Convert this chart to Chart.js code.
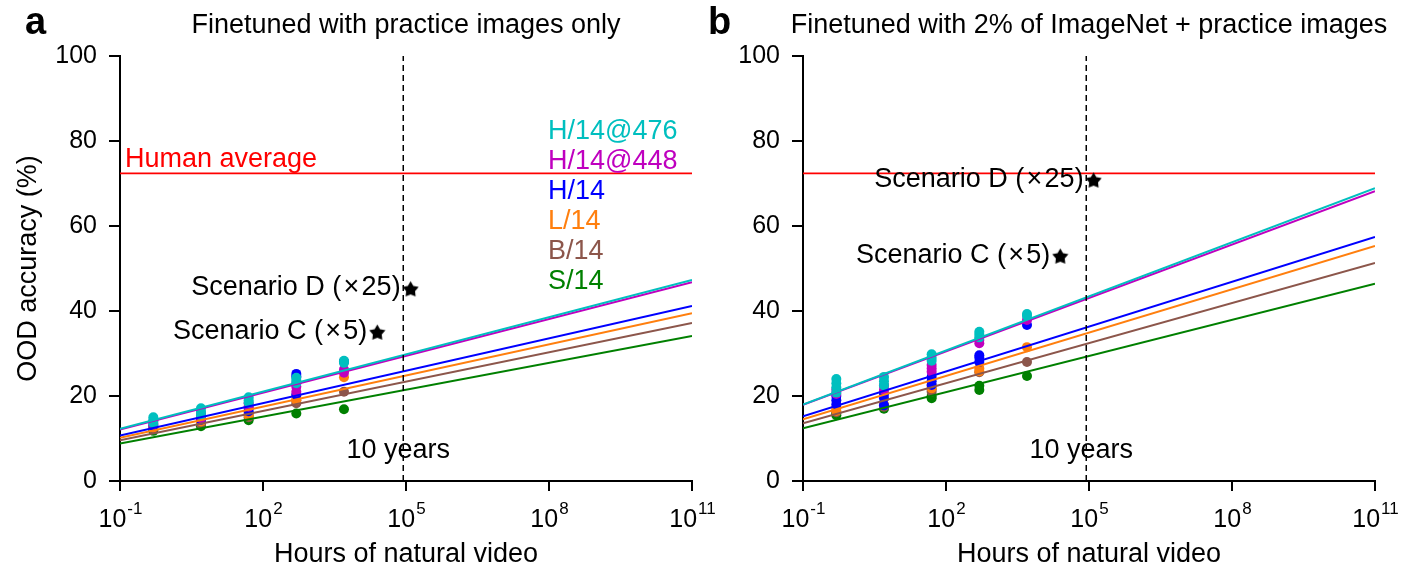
<!DOCTYPE html>
<html>
<head>
<meta charset="utf-8">
<script src="https://cdn.jsdelivr.net/npm/chart.js@4"></script>
<style>
  html, body { margin: 0; padding: 0; background: #fff; }
  #wrap { position: relative; width: 1419px; height: 573px; overflow: hidden; }
  canvas { position: absolute; top: 0; }
</style>
</head>
<body>
<div id="wrap">
  <canvas id="chartA" width="736" height="573" style="left:0px"></canvas>
  <canvas id="chartB" width="736" height="573" style="left:683px"></canvas>
</div>
<script>
// ---- data ----
const hours = [0.5, 5, 50, 500, 5000];
const models = ['H/14@476', 'H/14@448', 'H/14', 'L/14', 'B/14', 'S/14'];
const modelColors = ['#00bfbf', '#bf00bf', '#0000ff', '#ff7f0e', '#8c564b', '#008000'];

// panel a: OOD accuracy, several runs per amount of video
const accA_H476 = [[13.6, 14.3, 15.0], [15.4, 16.3, 17.1], [18.4, 19.0, 19.7], [23.0, 23.7, 24.3], [27.8, 28.3]];
const accA_H448 = [[13.3, 14.0], [14.8, 15.8], [17.5, 18.3], [21.0, 22.2, 23.0], [25.5, 26.2]];
const accA_H14  = [[13.0], [14.4, 15.0], [16.4, 17.2], [20.3, 24.6, 25.2], [28.1]];
const accA_L14  = [[12.6], [14.0], [15.4, 16.0], [19.0, 20.0], [24.4]];
const accA_B14  = [[12.3], [13.4, 13.9], [15.0, 15.6], [18.3, 19.0], [21.0]];
const accA_S14  = [[11.8], [12.9], [14.3], [15.9], [16.9]];

// panel b
const accB_H476 = [[20.8, 22.0, 23.0, 24.0], [22.5, 23.5, 24.5], [28.3, 29.0, 29.8], [33.8, 34.5, 35.1], [38.8, 39.3]];
const accB_H448 = [[20.5, 21.5], [21.5, 22.5], [25.7, 26.5, 27.3], [32.4, 33.2], [37.9]];
const accB_H14  = [[18.0, 19.0, 20.0], [17.8, 19.5, 20.5], [22.6, 23.5, 24.5], [28.0, 29.0, 29.6], [36.7]];
const accB_L14  = [[16.5, 17.2], [18.0], [21.8, 22.5], [25.8, 26.5], [31.5]];
const accB_B14  = [[16.2], [17.5], [21.0, 21.6], [25.6], [28.0]];
const accB_S14  = [[15.5, 16.0], [17.0], [19.5, 20.0], [21.4, 22.4], [24.7]];

// log-linear fits, values at both ends of the x range
const fitHours = [0.1, 1e11];
const fitA_H476 = [12.3, 47.3];
const fitA_H448 = [12.1, 46.8];
const fitA_H14  = [10.7, 41.2];
const fitA_L14  = [10.2, 39.5];
const fitA_B14  = [9.6, 37.2];
const fitA_S14  = [8.8, 34.1];
const fitB_H476 = [18.0, 68.9];
const fitB_H448 = [17.9, 68.2];
const fitB_H14  = [15.2, 57.4];
const fitB_L14  = [14.5, 55.3];
const fitB_B14  = [13.6, 51.3];
const fitB_S14  = [12.4, 46.4];

const humanAvg = 72.4;
const tenYears = 87600; // hours
const scenarioLabels = ['Scenario C (\u200a\u00d7\u200a5)', 'Scenario D (\u200a\u00d7\u200a25)'];
const scenarioHours = [2.5e4, 1.25e5];
const scenarioA = [35.0, 45.2];
const scenarioB = [52.9, 70.8];

const xTicks = [0.1, 1e2, 1e5, 1e8, 1e11];
const xTickExp = ['-1', '2', '5', '8', '11'];

const FONT = "'Liberation Sans', Arial, Helvetica, sans-serif";
Chart.defaults.font.family = FONT;
Chart.defaults.color = '#000';

// filled black star used for the scenario markers
function makeStar(size) {
  const c = document.createElement('canvas');
  c.width = size; c.height = size;
  const g = c.getContext('2d');
  const cx = size / 2, cy = size / 2 + 0.7, R = size / 2, r = R * 0.55;
  g.beginPath();
  for (let i = 0; i < 10; i++) {
    const rad = i % 2 === 0 ? R : r;
    const a = -Math.PI / 2 + i * Math.PI / 5;
    g.lineTo(cx + rad * Math.cos(a), cy + rad * Math.sin(a));
  }
  g.closePath();
  g.fillStyle = '#000';
  g.fill();
  return c;
}
const starImg = makeStar(17);

function toPoints(acc) {
  const pts = [];
  acc.forEach((vals, i) => vals.forEach(v => pts.push({ x: hours[i], y: v })));
  return pts;
}

// text drawn on top: panel letter, title, x tick labels, annotations
function textPlugin(panel) {
  return {
    id: 'panelText',
    afterDraw(chart) {
      const { ctx, chartArea: area, scales: { x, y } } = chart;
      ctx.save();
      ctx.fillStyle = '#000';

      // panel letter + title
      ctx.font = `bold 38px ${FONT}`;
      ctx.textAlign = 'left';
      ctx.textBaseline = 'middle';
      ctx.fillText(panel.letter, 25, 24);
      ctx.font = `27px ${FONT}`;
      ctx.textAlign = 'center';
      ctx.fillText(panel.title, (area.left + area.right) / 2, 26);

      // x tick labels 10^n
      ctx.textBaseline = 'alphabetic';
      xTicks.forEach((v, i) => {
        const px = x.getPixelForValue(v);
        ctx.font = `25px ${FONT}`;
        const w1 = ctx.measureText('10').width;
        ctx.font = `17px ${FONT}`;
        const w2 = ctx.measureText(xTickExp[i]).width;
        const left = px - (w1 + w2) / 2;
        ctx.textAlign = 'left';
        ctx.font = `25px ${FONT}`;
        ctx.fillText('10', left, 527);
        ctx.font = `17px ${FONT}`;
        ctx.fillText(xTickExp[i], left + w1 + 1, 514);
      });

      // "10 years"
      ctx.font = `27px ${FONT}`;
      ctx.textAlign = 'center';
      ctx.textBaseline = 'middle';
      ctx.fillText('10 years', x.getPixelForValue(tenYears) - 5, area.bottom - 30);

      // scenario labels, right-aligned next to the stars
      ctx.textAlign = 'right';
      scenarioLabels.forEach((lab, i) => {
        const px = x.getPixelForValue(scenarioHours[i]);
        const py = y.getPixelForValue(panel.scenario[i]);
        ctx.fillText(lab, px - 10, py - 1);
      });

      if (panel.legend) {
        ctx.textAlign = 'left';
        ctx.fillStyle = '#ff0000';
        ctx.textBaseline = 'alphabetic';
        ctx.fillText('Human average', area.left + 5, y.getPixelForValue(humanAvg) - 6);
        ctx.textBaseline = 'middle';
        models.forEach((m, i) => {
          ctx.fillStyle = modelColors[i];
          ctx.fillText(m, area.left + 428, 132 + i * 30);
        });
      }
      ctx.restore();
    }
  };
}

function makePanel(canvas, panel) {
  const datasets = [];

  // stars
  datasets.push({
    data: scenarioHours.map((h, i) => ({ x: h, y: panel.scenario[i] })),
    pointStyle: starImg,
    pointRadius: 8
  });
  // 10-year marker
  datasets.push({
    data: [{ x: tenYears, y: 0 }, { x: tenYears, y: 100 }],
    showLine: true, borderColor: '#000', borderWidth: 1.5, borderDash: [6, 4], pointRadius: 0
  });
  // human average
  datasets.push({
    data: [{ x: fitHours[0], y: humanAvg }, { x: fitHours[1], y: humanAvg }],
    showLine: true, borderColor: '#ff0000', borderWidth: 1.8, pointRadius: 0
  });
  // fit lines
  panel.fits.forEach((f, i) => {
    datasets.push({
      label: models[i] + ' fit',
      data: fitHours.map((h, j) => ({ x: h, y: f[j] })),
      showLine: true, borderColor: modelColors[i], borderWidth: 2, pointRadius: 0
    });
  });
  // measured points
  panel.acc.forEach((acc, i) => {
    datasets.push({
      label: models[i],
      data: toPoints(acc),
      pointRadius: 5,
      pointBackgroundColor: modelColors[i],
      pointBorderWidth: 0,
      borderColor: modelColors[i]
    });
  });

  return new Chart(canvas, {
    type: 'scatter',
    data: { datasets },
    plugins: [textPlugin(panel)],
    options: {
      responsive: false,
      animation: false,
      events: [],
      layout: { padding: { left: 0, top: 56, right: 44, bottom: 0 } },
      plugins: { legend: { display: false }, tooltip: { enabled: false } },
      scales: {
        x: {
          type: 'logarithmic',
          min: 0.1,
          max: 1e11,
          afterBuildTicks: (s) => { s.ticks = xTicks.map(v => ({ value: v })); },
          afterFit: (s) => { s.height = 92; },
          ticks: { display: false },
          grid: { drawOnChartArea: false, drawTicks: true, tickLength: 10, tickColor: '#000', lineWidth: 2 },
          border: { color: '#000', width: 2 },
          title: { display: true, text: 'Hours of natural video', font: { size: 27 }, padding: { top: 0, bottom: 2 } }
        },
        y: {
          min: 0,
          max: 100,
          afterFit: (s) => { s.width = 120; },
          ticks: { stepSize: 20, font: { size: 25 }, padding: 12, color: '#000' },
          grid: { drawOnChartArea: false, drawTicks: true, tickLength: 11, tickColor: '#000', lineWidth: 2 },
          border: { color: '#000', width: 2 },
          title: { display: panel.yTitle, text: 'OOD accuracy (%)', font: { size: 27 }, padding: { top: 12, bottom: 0 } }
        }
      }
    }
  });
}

makePanel(document.getElementById('chartA'), {
  letter: 'a',
  title: 'Finetuned with practice images only',
  acc: [accA_H476, accA_H448, accA_H14, accA_L14, accA_B14, accA_S14],
  fits: [fitA_H476, fitA_H448, fitA_H14, fitA_L14, fitA_B14, fitA_S14],
  scenario: scenarioA,
  legend: true,
  yTitle: true
});

makePanel(document.getElementById('chartB'), {
  letter: 'b',
  title: 'Finetuned with 2% of ImageNet + practice images',
  acc: [accB_H476, accB_H448, accB_H14, accB_L14, accB_B14, accB_S14],
  fits: [fitB_H476, fitB_H448, fitB_H14, fitB_L14, fitB_B14, fitB_S14],
  scenario: scenarioB,
  legend: false,
  yTitle: false
});
</script>
</body>
</html>
